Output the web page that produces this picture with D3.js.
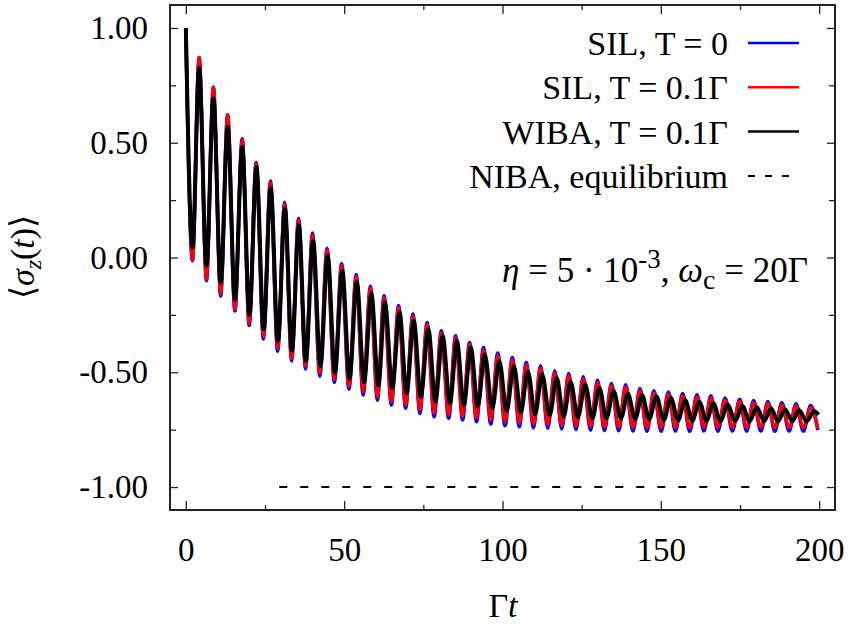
<!DOCTYPE html>
<html>
<head>
<meta charset="utf-8">
<script src="https://cdn.jsdelivr.net/npm/d3@7"></script>
<style>
  body { margin: 0; background: #fff; }
  svg text { font-family: "Liberation Serif", "Times New Roman", serif; fill: #000; }
</style>
</head>
<body>
<div id="plot"></div>
<script>
// extrema of the oscillations (peak, trough, peak, ...)
let silTimes = [
	0, 2.1, 4.2, 6.5, 8.7, 11.0, 13.2, 15.5, 17.8, 20.0,
	22.2, 24.5, 26.7, 29.0, 31.2, 33.4, 35.6, 37.8, 40.0, 42.3,
	44.6, 46.9, 49.2, 51.5, 53.8, 56.0, 58.3, 60.5, 62.6, 64.9,
	67.2, 69.4, 71.7, 73.9, 76.2, 78.4, 80.7, 83.0, 85.2, 87.4,
	89.6, 91.8, 94.0, 96.3, 98.5, 100.8, 103.1, 105.3, 107.5, 109.8,
	112.0, 114.3, 116.5, 118.7, 120.9, 123.2, 125.5, 127.8, 130.0, 132.2,
	134.4, 136.7, 138.9, 141.2, 143.4, 145.6, 147.8, 150.1, 152.4, 154.6,
	156.9, 159.1, 161.4, 163.6, 165.8, 168.0, 170.3, 172.6, 174.9, 177.1,
	179.3, 181.6, 183.8, 186.0, 188.2, 190.5, 192.7, 195.0, 197.3, 199.6
];
let silT0 = [
	1.0, -0.014, 0.871, -0.101, 0.741, -0.167, 0.622, -0.233, 0.517, -0.296,
	0.414, -0.355, 0.333, -0.408, 0.241, -0.451, 0.171, -0.486, 0.106, -0.517,
	0.040, -0.544, -0.026, -0.574, -0.074, -0.599, -0.126, -0.622, -0.166, -0.643,
	-0.209, -0.657, -0.246, -0.679, -0.283, -0.694, -0.319, -0.701, -0.341, -0.708,
	-0.370, -0.715, -0.392, -0.725, -0.416, -0.733, -0.436, -0.737, -0.458, -0.742,
	-0.472, -0.744, -0.494, -0.747, -0.506, -0.749, -0.520, -0.752, -0.535, -0.754,
	-0.549, -0.755, -0.555, -0.756, -0.571, -0.757, -0.581, -0.757, -0.586, -0.756,
	-0.593, -0.757, -0.598, -0.756, -0.603, -0.757, -0.612, -0.756, -0.618, -0.757,
	-0.623, -0.756, -0.627, -0.757, -0.633, -0.756, -0.637, -0.757, -0.645, -0.752
];
let silT01 = [
	1.0, -0.010, 0.872, -0.095, 0.742, -0.160, 0.621, -0.225, 0.514, -0.287,
	0.410, -0.345, 0.328, -0.397, 0.235, -0.440, 0.164, -0.474, 0.099, -0.504,
	0.033, -0.531, -0.034, -0.560, -0.082, -0.585, -0.134, -0.608, -0.175, -0.628,
	-0.217, -0.643, -0.255, -0.664, -0.292, -0.679, -0.328, -0.686, -0.350, -0.693,
	-0.379, -0.700, -0.401, -0.710, -0.425, -0.718, -0.445, -0.722, -0.467, -0.727,
	-0.481, -0.729, -0.503, -0.732, -0.515, -0.734, -0.529, -0.737, -0.544, -0.739,
	-0.558, -0.740, -0.564, -0.741, -0.580, -0.742, -0.590, -0.742, -0.595, -0.741,
	-0.602, -0.742, -0.607, -0.741, -0.612, -0.742, -0.621, -0.741, -0.627, -0.742,
	-0.632, -0.741, -0.636, -0.742, -0.642, -0.741, -0.646, -0.742, -0.654, -0.745
];
let wibaTimes = [
	0, 2.1, 4.2, 6.5, 8.7, 11.0, 13.2, 15.5, 17.8, 20.1,
	22.3, 24.6, 26.8, 29.1, 31.3, 33.5, 35.7, 37.9, 40.2, 42.5,
	44.8, 47.1, 49.4, 51.7, 54.0, 56.3, 58.6, 60.8, 62.9, 65.2,
	67.5, 69.7, 72.0, 74.2, 76.6, 78.8, 81.1, 83.4, 85.6, 87.8,
	90.0, 92.2, 94.4, 96.8, 99.0, 101.3, 103.6, 105.8, 108.0, 110.3,
	112.5, 114.9, 117.1, 119.3, 121.5, 123.8, 126.1, 128.4, 130.6, 132.8,
	135.1, 137.4, 139.6, 141.9, 144.1, 146.3, 148.6, 150.9, 153.2, 155.4,
	157.7, 159.9, 162.2, 164.4, 166.6, 168.8, 171.1, 173.5, 175.8, 178.0,
	180.3, 182.6, 184.8, 187.0, 189.2, 191.5, 193.7, 196.0, 198.4, 199.8
];
let wibaT01 = [
	1.0, 0.044, 0.827, -0.035, 0.693, -0.109, 0.568, -0.183, 0.481, -0.249,
	0.393, -0.313, 0.303, -0.363, 0.213, -0.406, 0.140, -0.450, 0.073, -0.473,
	0.008, -0.503, -0.057, -0.528, -0.107, -0.543, -0.157, -0.558, -0.196, -0.568,
	-0.240, -0.590, -0.276, -0.605, -0.313, -0.627, -0.342, -0.634, -0.364, -0.642,
	-0.393, -0.649, -0.423, -0.656, -0.451, -0.668, -0.473, -0.673, -0.495, -0.683,
	-0.509, -0.688, -0.524, -0.693, -0.542, -0.696, -0.553, -0.700, -0.568, -0.700,
	-0.582, -0.701, -0.594, -0.703, -0.600, -0.705, -0.604, -0.708, -0.612, -0.710,
	-0.622, -0.711, -0.629, -0.712, -0.635, -0.713, -0.641, -0.712, -0.647, -0.714,
	-0.652, -0.713, -0.657, -0.714, -0.661, -0.713, -0.665, -0.714, -0.670, -0.685
];
let nibaTimes = [29.5, 200];
let nibaEq = [-1.0, -1.0];

let xTicks = [0, 50, 100, 150, 200];
let xMinor = [25, 75, 125, 175];
let yTicks = [-1.0, -0.5, 0.0, 0.5, 1.0];
let yMinor = [-0.75, -0.25, 0.25, 0.75];

let series = [
	{label: "SIL, T = 0", t: silTimes, v: silT0, color: "#0000ff", width: 3.6, dash: null},
	{label: "SIL, T = 0.1Γ", t: silTimes, v: silT01, color: "#ff0000", width: 3.3, dash: null},
	{label: "WIBA, T = 0.1Γ", t: wibaTimes, v: wibaT01, color: "#000000", width: 4, dash: null},
	{label: "NIBA, equilibrium", t: nibaTimes, v: nibaEq, color: "#000000", width: 2, dash: "8,13"}
];

let W = 852, H = 632;
let margin = {top: 5, right: 17, bottom: 122, left: 170};
let width = W - margin.left - margin.right,
	height = H - margin.top - margin.bottom;

let svg = d3.select("#plot").append("svg")
	.attr("width", W)
	.attr("height", H);

let g = svg.append("g")
	.attr("transform", "translate(" + margin.left + "," + margin.top + ")");

let x = d3.scaleLinear().domain([-5, 205]).range([0, width]);
let y = d3.scaleLinear().domain([-1.1, 1.1]).range([height, 0]);

let frameColor = "#222";

// ticks (gnuplot style: inward, mirrored)
function styleAxis(sel) {
	sel.select(".domain").remove();
	sel.selectAll(".tick line").attr("stroke", frameColor).attr("stroke-width", 1.3);
	sel.selectAll(".tick text").attr("font-size", 33).attr("fill", "#000")
		.style("font-family", '"Liberation Serif", "Times New Roman", serif');
}

g.append("g").attr("transform", "translate(0," + height + ")")
	.call(d3.axisBottom(x).tickValues(xTicks).tickSize(-9).tickPadding(28).tickFormat(d3.format("d")))
	.call(styleAxis);
g.append("g").attr("transform", "translate(0," + height + ")")
	.call(d3.axisBottom(x).tickValues(xMinor).tickSize(-5).tickFormat(""))
	.call(styleAxis);
g.append("g")
	.call(d3.axisTop(x).tickValues(xTicks).tickSize(-9).tickFormat(""))
	.call(styleAxis);
g.append("g")
	.call(d3.axisTop(x).tickValues(xMinor).tickSize(-5).tickFormat(""))
	.call(styleAxis);

g.append("g")
	.call(d3.axisLeft(y).tickValues(yTicks).tickSize(-8).tickPadding(22).tickFormat(d => d.toFixed(2)))
	.call(styleAxis);
g.append("g")
	.call(d3.axisLeft(y).tickValues(yMinor).tickSize(-6).tickFormat(""))
	.call(styleAxis);
g.append("g").attr("transform", "translate(" + width + ",0)")
	.call(d3.axisRight(y).tickValues(yTicks).tickSize(-8).tickFormat(""))
	.call(styleAxis);
g.append("g").attr("transform", "translate(" + width + ",0)")
	.call(d3.axisRight(y).tickValues(yMinor).tickSize(-6).tickFormat(""))
	.call(styleAxis);

// curves
let line = d3.line()
	.x(d => x(d.t))
	.y(d => y(d.v))
	.curve(d3.curveMonotoneX);

series.forEach(function(s) {
	let data = s.t.map((t, i) => ({t: t, v: s.v[i]}));
	g.append("path")
		.datum(data)
		.attr("fill", "none")
		.attr("stroke", s.color)
		.attr("stroke-width", s.width)
		.attr("stroke-linejoin", "round")
		.attr("stroke-dasharray", s.dash)
		.attr("d", s.dash ? d3.line().x(d => x(d.t)).y(d => y(d.v)) : line);
});

// frame
g.append("rect")
	.attr("x", 0).attr("y", 0)
	.attr("width", width).attr("height", height)
	.attr("fill", "none")
	.attr("stroke", frameColor)
	.attr("stroke-width", 2);

// legend
let legend = svg.append("g");
series.forEach(function(s, i) {
	let ly = 43 + i * 44.3;
	legend.append("text")
		.attr("x", 728).attr("y", ly + 12)
		.attr("text-anchor", "end")
		.attr("font-size", 34)
		.text(s.label);
	legend.append("line")
		.attr("x1", 748).attr("x2", 799)
		.attr("y1", ly).attr("y2", ly)
		.attr("stroke", s.color)
		.attr("stroke-width", s.dash ? 2 : 2.5)
		.attr("stroke-dasharray", s.dash ? "7,10" : null);
});

// parameters label
let ann = svg.append("text")
	.attr("x", 808).attr("y", 282)
	.attr("text-anchor", "end")
	.attr("font-size", 35);
ann.append("tspan").attr("font-style", "italic").text("η");
ann.append("tspan").text(" = 5 · 10");
ann.append("tspan").attr("font-size", 27).attr("dy", -14).text("-3");
ann.append("tspan").attr("dy", 14).text(", ");
ann.append("tspan").attr("font-style", "italic").text("ω");
ann.append("tspan").attr("font-size", 28).attr("dy", 7).text("c");
ann.append("tspan").attr("dy", -7).text(" = 20Γ");

// axis titles
let yl = svg.append("text")
	.attr("transform", "translate(34,257) rotate(-90)")
	.attr("text-anchor", "middle")
	.attr("font-size", 34);
yl.append("tspan").text("⟨");
yl.append("tspan").attr("font-style", "italic").text("σ");
yl.append("tspan").attr("font-style", "italic").attr("font-size", 24).attr("dy", 7).text("z");
yl.append("tspan").attr("dy", -7).text("(");
yl.append("tspan").attr("font-style", "italic").text("t");
yl.append("tspan").text(")⟩");

let xl = svg.append("text")
	.attr("x", 503).attr("y", 617)
	.attr("text-anchor", "middle")
	.attr("font-size", 34);
xl.append("tspan").text("Γ");
xl.append("tspan").attr("font-style", "italic").text("t");
</script>
</body>
</html>
